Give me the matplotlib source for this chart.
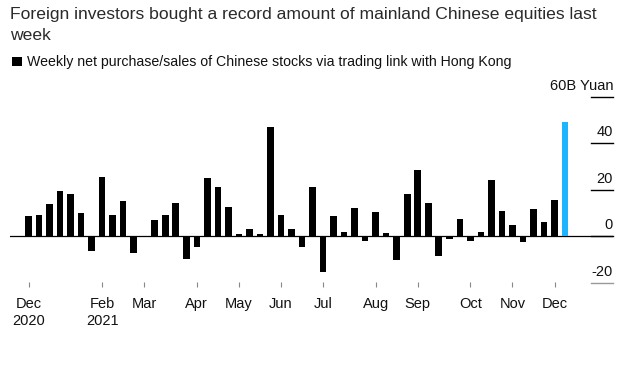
import matplotlib
matplotlib.use("Agg")
import matplotlib.pyplot as plt
import matplotlib.patches as mpatches
import matplotlib.transforms as mtransforms

plt.rcParams['font.family'] = ['Liberation Sans', 'DejaVu Sans']

# ---------- data (billion yuan, weekly net purchase via Stock Connect)
values = [8.6, 9.1, 13.8, 19.4, 18.1, 9.9, -6.3, 25.5, 9.1, 15.1,
          -7.2, -0.3, 6.9, 9.1, 14.2, -9.8, -4.9, 25.0, 21.1, 12.5,
          1.0, 3.0, 1.0, 47.0, 9.1, 3.0, -4.6, 21.1, -15.4, 8.6,
          1.7, 12.1, -2.0, 10.4, 1.3, -10.4, 18.1, 28.2, 14.4, -8.5,
          -1.1, 7.3, -2.0, 1.7, 23.9, 10.8, 4.7, -2.6, 11.7, 6.0,
          15.5, 49.0]
tick_idx = [0, 7, 11, 16, 20, 24, 28, 33, 37, 42, 46, 50]
tick_labels = ['Dec\n2020', 'Feb\n2021', 'Mar', 'Apr', 'May', 'Jun', 'Jul',
               'Aug', 'Sep', 'Oct', 'Nov', 'Dec']
y_ticks = [60, 40, 20, 0, -20]
y_labels = ['60B Yuan', '40', '20', '0', '-20']

title_lines = ["Foreign investors bought a record amount of mainland Chinese equities last",
               "week"]
legend_txt = "Weekly net purchase/sales of Chinese stocks via trading link with Hong Kong"

W, H = 625, 375
fig = plt.figure(figsize=(W / 100, H / 100), dpi=100)

# axes placed in pixel terms
x0, x1 = 10, 613
ylo, yhi = -22, 62
ppu = 2.325
zero_px = 236
top_px = zero_px - yhi * ppu
bot_px = zero_px - ylo * ppu
ax = fig.add_axes([x0 / W, 1 - bot_px / H, (x1 - x0) / W, (bot_px - top_px) / H])

colors = ['black'] * (len(values) - 1) + ['#1eb4ff']
xs = list(range(len(values)))
ax.bar(xs, values, width=0.63, color=colors, zorder=3)
ax.axhline(0, color='black', lw=0.9, zorder=2)

step = 10.52
first = 28.5
ax.set_xlim((x0 - first) / step, (x1 - first) / step)
ax.set_ylim(ylo, yhi)

for s in ax.spines.values():
    s.set_visible(False)

ax.set_yticks([])
ax.set_xticks(tick_idx)
ax.set_xticklabels(tick_labels, fontsize=10.5, color='#111111')
ax.tick_params(axis='x', direction='in', length=3.5, width=0.8,
               color='#888888', pad=7)
for lbl in ax.get_xticklabels():
    lbl.set_linespacing(1.25)

# right-side value ticks
frac0 = (591 - x0) / (x1 - x0)
trans = mtransforms.blended_transform_factory(ax.transAxes, ax.transData)
for v, lab in zip(y_ticks, y_labels):
    c = '#999999' if v < 0 else 'black'
    ax.plot([frac0, 1], [v, v], transform=trans, color=c, lw=1.0,
            clip_on=False, zorder=4)
    ax.annotate(lab, xy=(1, v), xycoords=trans, xytext=(0, 5),
                textcoords='offset points', ha='right', va='baseline',
                fontsize=10.5, color='#111111', annotation_clip=False)

# title and legend
for i, line in enumerate(title_lines):
    fig.text(10 / W, 1 - (18.5 + 21 * i) / H, line, fontsize=12.6,
             color='#2a2a2a', ha='left', va='baseline')
fig.patches.append(mpatches.Rectangle((12 / W, 1 - 66 / H), 10 / W, 9 / H,
                                      transform=fig.transFigure,
                                      facecolor='black', edgecolor='none'))
fig.text(27 / W, 1 - 66 / H, legend_txt, fontsize=10.2, color='#111111',
         ha='left', va='baseline')

fig.savefig('out.png', dpi=100)
